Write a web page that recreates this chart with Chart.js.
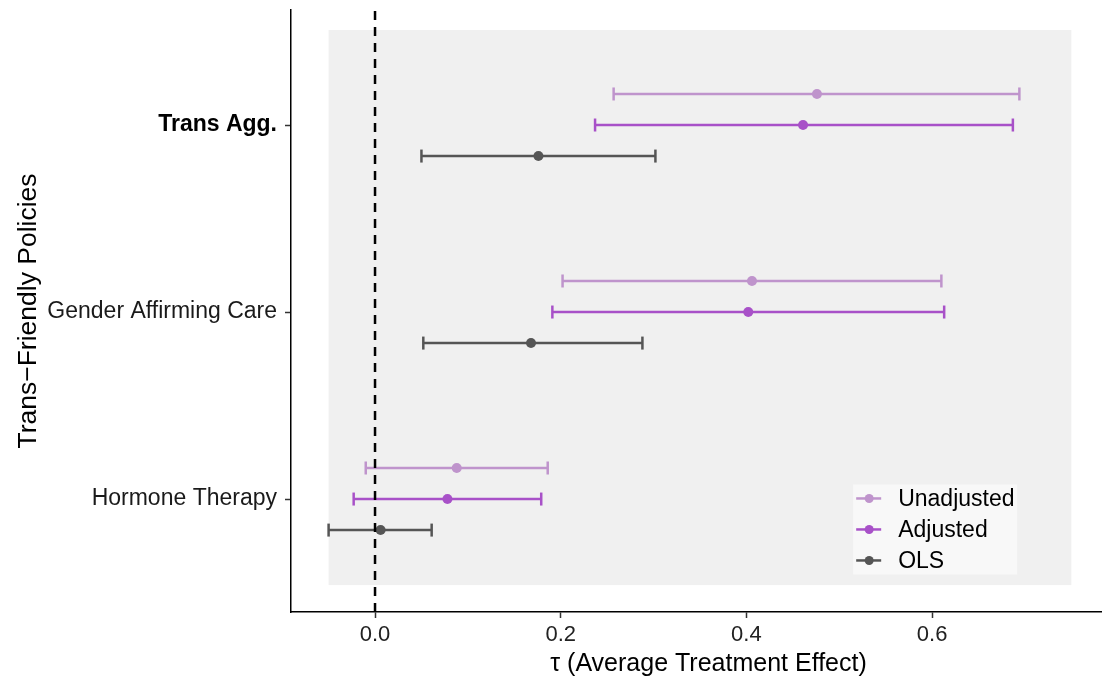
<!DOCTYPE html>
<html>
<head>
<meta charset="utf-8">
<script src="https://cdn.jsdelivr.net/npm/chart.js@4.4.0/dist/chart.umd.min.js"></script>
<style>
  html, body { margin: 0; padding: 0; background: #fff; }
  #wrap { width: 1102px; height: 682px; }
</style>
</head>
<body>
<div id="wrap"><canvas id="chart" width="1102" height="682"></canvas></div>
<script>
// categories, bottom to top (y = 1, 2, 3)
var categories = ['Hormone Therapy', 'Gender Affirming Care', 'Trans Agg.'];
var seriesNames = ['Unadjusted', 'Adjusted', 'OLS'];
var seriesColors = ['#bf94cc', '#a851c8', '#555555'];
var seriesOffsets = [0.166, 0, -0.166];

var unadjEst = [0.088, 0.406, 0.476];
var unadjLo  = [-0.010, 0.202, 0.257];
var unadjHi  = [0.186, 0.610, 0.694];

var adjEst = [0.078, 0.402, 0.461];
var adjLo  = [-0.023, 0.191, 0.237];
var adjHi  = [0.179, 0.613, 0.687];

var olsEst = [0.006, 0.168, 0.176];
var olsLo  = [-0.050, 0.052, 0.050];
var olsHi  = [0.061, 0.288, 0.302];

var xTicks = [0, 0.2, 0.4, 0.6];
var xTitle = 'τ (Average Treatment Effect)';

var est = [unadjEst, adjEst, olsEst];
var lo = [unadjLo, adjLo, olsLo];
var hi = [unadjHi, adjHi, olsHi];

var FONT = "'Liberation Sans', Arial, Helvetica, sans-serif";

var datasets = [];
seriesNames.forEach(function(name, s) {
  var bars = [];
  var pts = [];
  categories.forEach(function(c, i) {
    var y = i + 1 + seriesOffsets[s];
    bars.push({x: lo[s][i], y: y}, {x: hi[s][i], y: y}, {x: NaN, y: NaN});
    pts.push({x: est[s][i], y: y});
  });
  datasets.push({
    label: name + ' CI',
    data: bars,
    showLine: true,
    borderColor: seriesColors[s],
    borderWidth: 2.5,
    pointStyle: 'line',
    pointRotation: 90,
    pointRadius: 6.5,
    pointBorderWidth: 2.5,
    pointBorderColor: seriesColors[s],
    pointHoverRadius: 6.5,
    spanGaps: false,
    order: 2
  });
  datasets.push({
    label: name,
    data: pts,
    showLine: false,
    pointStyle: 'circle',
    pointRadius: 5,
    pointBackgroundColor: seriesColors[s],
    pointBorderColor: seriesColors[s],
    pointBorderWidth: 0,
    order: 1
  });
});

// zero reference line
datasets.push({
  label: 'zero',
  data: [{x: 0, y: 0.396}, {x: 0, y: 3.615}],
  showLine: true,
  borderColor: '#000',
  borderWidth: 2.5,
  borderDash: [9, 7],
  pointRadius: 0,
  order: 0
});

var panel = {xMin: -0.05, xMax: 0.75, yMin: 0.54, yMax: 3.508};

var panelPlugin = {
  id: 'panel',
  beforeDatasetsDraw: function(chart) {
    var ctx = chart.ctx, xs = chart.scales.x, ys = chart.scales.y;
    var l = xs.getPixelForValue(panel.xMin), r = xs.getPixelForValue(panel.xMax);
    var t = ys.getPixelForValue(panel.yMax), b = ys.getPixelForValue(panel.yMin);
    ctx.save();
    ctx.fillStyle = '#f0f0f0';
    ctx.fillRect(l, t, r - l, b - t);
    ctx.restore();
  },
  afterDraw: function(chart) {
    var ctx = chart.ctx, xs = chart.scales.x;
    ctx.save();
    ctx.font = '25px ' + FONT;
    ctx.fillStyle = '#000';
    ctx.textAlign = 'center';
    ctx.textBaseline = 'middle';
    ctx.fillText(xTitle, (xs.left + xs.right) / 2 + 12, xs.bottom - 18);
    ctx.restore();
  }
};

var legendPlugin = {
  id: 'boxLegend',
  afterDatasetsDraw: function(chart) {
    var ctx = chart.ctx, xs = chart.scales.x, ys = chart.scales.y;
    var left = xs.getPixelForValue(0.515);
    var top = ys.getPixelForValue(1.078);
    ctx.save();
    ctx.fillStyle = '#f8f8f8';
    ctx.fillRect(left, top, 164, 90);
    ctx.font = '23px ' + FONT;
    ctx.textBaseline = 'middle';
    seriesNames.forEach(function(name, s) {
      var y = top + 14 + s * 31;
      ctx.strokeStyle = seriesColors[s];
      ctx.lineWidth = 2.5;
      ctx.beginPath();
      ctx.moveTo(left + 3, y);
      ctx.lineTo(left + 28, y);
      ctx.stroke();
      ctx.fillStyle = seriesColors[s];
      ctx.beginPath();
      ctx.arc(left + 16, y, 4.5, 0, Math.PI * 2);
      ctx.fill();
      ctx.fillStyle = '#000';
      ctx.fillText(name, left + 45, y + 1);
    });
    ctx.restore();
  }
};

new Chart(document.getElementById('chart'), {
  type: 'scatter',
  data: {datasets: datasets},
  options: {
    responsive: false,
    animation: false,
    layout: {autoPadding: false, padding: {top: 10, right: 0, left: 0, bottom: 0}},
    plugins: {legend: {display: false}, tooltip: {enabled: false}},
    scales: {
      x: {
        type: 'linear',
        min: -0.0905,
        max: 0.783,
        afterBuildTicks: function(scale) {
          scale.ticks = xTicks.map(function(v) { return {value: v}; });
        },
        afterFit: function(scale) {
          scale.height = 70;
          scale.paddingLeft = 0;
          scale.paddingRight = 0;
        },
        ticks: {
          callback: function(v) { return v.toFixed(1); },
          color: '#222',
          font: {family: FONT, size: 22},
          padding: 4
        },
        grid: {drawOnChartArea: false, drawTicks: true, tickLength: 6, color: '#333', tickWidth: 1.5},
        border: {display: true, color: '#000', width: 1.5},
        title: {display: false}
      },
      y: {
        type: 'linear',
        min: 0.396,
        max: 3.615,
        afterBuildTicks: function(scale) {
          scale.ticks = categories.map(function(c, i) { return {value: i + 1}; });
        },
        afterFit: function(scale) {
          scale.width = 291;
          scale.paddingTop = 0;
          scale.paddingBottom = 0;
        },
        ticks: {
          callback: function(v) { return categories[v - 1]; },
          color: function(ctx) { return ctx.tick && ctx.tick.value === 3 ? '#000' : '#1a1a1a'; },
          font: function(ctx) {
            return ctx.tick && ctx.tick.value === 3
              ? {family: FONT, size: 23, weight: 'bold'}
              : {family: FONT, size: 23};
          },
          padding: 8
        },
        grid: {drawOnChartArea: false, drawTicks: true, tickLength: 6, color: '#333', tickWidth: 1.5},
        border: {display: true, color: '#000', width: 1.5},
        title: {
          display: true,
          text: 'Trans−Friendly Policies',
          color: '#000',
          font: {family: FONT, size: 26.5},
          padding: {top: 13, bottom: 6}
        }
      }
    }
  },
  plugins: [panelPlugin, legendPlugin]
});
</script>
</body>
</html>
